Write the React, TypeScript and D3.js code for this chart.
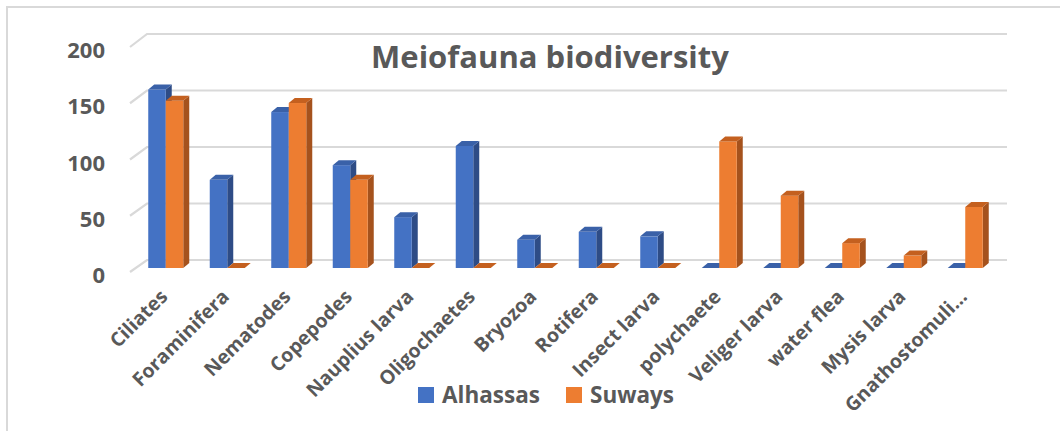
import React from "react";
import * as d3 from "d3";

const categories = [
  "Ciliates", "Foraminifera", "Nematodes", "Copepodes", "Nauplius larva",
  "Oligochaetes", "Bryozoa", "Rotifera", "Insect larva", "polychaete",
  "Veliger larva", "water flea", "Mysis larva", "Gnathostomuli…",
];
const alhassas = [158, 78, 138, 91, 45, 108, 25, 32, 28, 0, 0, 0, 0, 0];
const suways = [148, 0, 146, 78, 0, 0, 0, 0, 0, 112, 64, 22, 11, 54];
const seriesNames = ["Alhassas", "Suways"];
const yTicks = [0, 50, 100, 150, 200];
const title = "Meiofauna biodiversity";

const W = 1060;
const H = 431;
const FONT = "'Open Sans', 'DejaVu Sans', sans-serif";
const TXT = "#595959";
const GRID = "#D9D9D9";

const colors = [
  { front: "#4472C4", side: "#2E4C86", top: "#3A61A8" },
  { front: "#ED7D31", side: "#A5521D", top: "#C4601F" },
];

const DX = 6;
const DY = -5;

export default function App() {
  const x = d3.scaleBand<string>().domain(categories).range([135, 996]).padding(0);
  const barW = 17.5;
  const yBar = d3.scaleLinear().domain([0, 200]).range([268, 42]);
  const yFront = d3.scaleLinear().domain([0, 200]).range([272, 47]);
  const yBack = d3.scaleLinear().domain([0, 200]).range([260, 34]);
  const frontX = 130;
  const backX0 = 147;
  const backX1 = 1007;

  const series = [alhassas, suways];

  const bars: React.ReactNode[] = [];
  categories.forEach((c, i) => {
    const cx = (x(c) as number) + x.bandwidth() / 2;
    series.forEach((vals, s) => {
      const v = vals[i];
      const x0 = cx - barW + s * barW;
      const x1 = x0 + barW;
      const yb = yBar(0);
      const yt = yBar(v);
      const col = colors[s];
      const key = `${i}-${s}`;
      bars.push(
        <g key={key}>
          {v > 0 && (
            <path
              d={`M${x1},${yt} L${x1 + DX},${yt + DY} L${x1 + DX},${yb + DY} L${x1},${yb} Z`}
              fill={col.side}
            />
          )}
          {v > 0 && <rect x={x0} y={yt} width={barW} height={yb - yt} fill={col.front} />}
          <path
            d={`M${x0},${yt} L${x0 + DX},${yt + DY} L${x1 + DX},${yt + DY} L${x1},${yt} Z`}
            fill={col.top}
          />
        </g>
      );
    });
  });

  return (
    <svg
      width={W}
      height={H}
      style={{ position: "absolute", left: 0, top: 0, display: "block", background: "#fff" }}
    >
      <rect x={7} y={7} width={W + 10} height={H + 10} fill="#fff" stroke={GRID} strokeWidth={2} />
      {yTicks.map((t) => (
        <path
          key={t}
          d={`M${frontX},${yFront(t)} L${backX0},${yBack(t)} L${backX1},${yBack(t)}`}
          fill="none"
          stroke={GRID}
          strokeWidth={2.2}
        />
      ))}
      {yTicks.map((t) => (
        <text
          key={"l" + t}
          x={105}
          y={yFront(t) + 2}
          textAnchor="end"
          dominantBaseline="central"
          fontFamily={FONT}
          fontWeight={700}
          fontSize={22}
          fill={TXT}
        >
          {t}
        </text>
      ))}
      <text
        x={550}
        y={68}
        textAnchor="middle"
        fontFamily={FONT}
        fontWeight={700}
        fontSize={31}
        fill={TXT}
      >
        {title}
      </text>
      {bars}
      {categories.map((c) => {
        const cx = (x(c) as number) + x.bandwidth() / 2;
        const px = cx + 3;
        const py = 298;
        return (
          <text
            key={"c" + c}
            x={px}
            y={py}
            transform={`rotate(-45 ${px} ${py})`}
            textAnchor="end"
            fontFamily={FONT}
            fontWeight={700}
            fontSize={19.5}
            fill={TXT}
          >
            {c}
          </text>
        );
      })}
      {seriesNames.map((n, s) => {
        const lx = s === 0 ? 418 : 566;
        return (
          <g key={n}>
            <rect x={lx} y={387} width={16} height={16} fill={colors[s].front} />
            <text
              x={lx + 24}
              y={403}
              fontFamily={FONT}
              fontWeight={700}
              fontSize={22.5}
              fill={TXT}
            >
              {n}
            </text>
          </g>
        );
      })}
    </svg>
  );
}
